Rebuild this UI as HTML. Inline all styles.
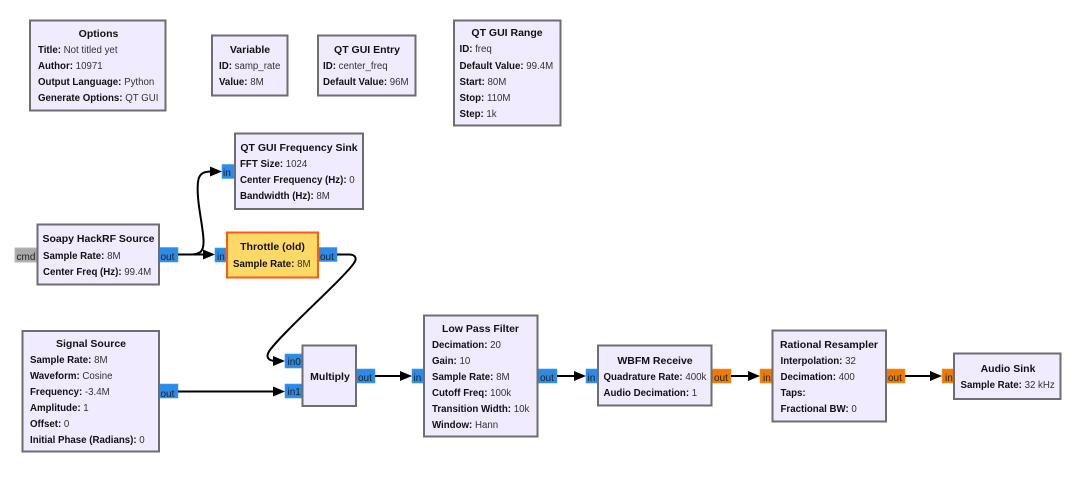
<!DOCTYPE html>
<html><head><meta charset="utf-8"><style>
html,body{margin:0;padding:0;background:#fff;width:1080px;height:483px;overflow:hidden}
svg{display:block}
text{font-family:"Liberation Sans",sans-serif;font-size:9.7px;fill:#333}
.pl text{font-size:10px;fill:#222}
.b{font-weight:bold;fill:#111}
.t{font-weight:bold;fill:#111;text-anchor:middle;font-size:10.5px}
.n{fill:#f0ebff;stroke:#6e6e6e;stroke-width:2}
.p{fill:#2a8be8;stroke:#4aa0f0;stroke-width:.6}
.o{fill:#ee7a00;stroke:#f09a40;stroke-width:.6}
.w{fill:none;stroke:#000;stroke-width:2}
.a{fill:#000}
</style></head><body>
<svg width="1080" height="483" viewBox="0 0 1080 483" xmlns="http://www.w3.org/2000/svg">
<!-- ports -->
<rect class="p" x="222" y="164.500" width="12" height="14"/>
<rect x="15" y="248" width="22" height="14" fill="#aaa" stroke="#bbb"/>
<rect class="p" x="159" y="247.500" width="19" height="14.500"/>
<rect class="p" x="215" y="248" width="11" height="14"/>
<rect class="p" x="318" y="247.500" width="19" height="14"/>
<rect class="p" x="285" y="354" width="17" height="14"/>
<rect class="p" x="285" y="384" width="17" height="14"/>
<rect class="p" x="356" y="369" width="19" height="14"/>
<rect class="p" x="159" y="384" width="19" height="14"/>
<rect class="p" x="412" y="369" width="12" height="14"/>
<rect class="p" x="538" y="369" width="19" height="14"/>
<rect class="p" x="586" y="369" width="12" height="14"/>
<rect class="o" x="712" y="369" width="19" height="14"/>
<rect class="o" x="760" y="369" width="12" height="14"/>
<rect class="o" x="886" y="369" width="19" height="14"/>
<rect class="o" x="942" y="369" width="12" height="14"/>
<!-- wires -->
<path class="w" d="M178 254.500H212"/>
<path class="w" d="M190 254.500C200 254.500 204 252 203.500 240C203 225 196 200 198 182C199 173 204 171.500 212 171.500"/>
<path class="w" d="M337 254.500H349C356 254.500 357 259 354 263C345 277 285 330 270 350C265 357 268 361 276 361"/>
<path class="w" d="M178 391.500H276"/>
<path class="w" d="M375 376H403"/>
<path class="w" d="M557 376H577"/>
<path class="w" d="M731 376H751"/>
<path class="w" d="M905 376H933"/>
<path class="a" d="M222 171.500L210 166.500V176.500Z"/>
<path class="a" d="M215 254.500L203 249.500V259.500Z"/>
<path class="a" d="M285 361L273 356V366Z"/>
<path class="a" d="M285 391.500L273 386.500V396.500Z"/>
<path class="a" d="M412 376L400 371V381Z"/>
<path class="a" d="M586 376L574 371V381Z"/>
<path class="a" d="M760 376L748 371V381Z"/>
<path class="a" d="M942 376L930 371V381Z"/>
<!-- boxes -->
<rect class="n" x="30" y="20.500" width="135.500" height="90"/>
<rect class="n" x="212" y="35.500" width="75.500" height="60"/>
<rect class="n" x="318" y="35.500" width="97.500" height="60"/>
<rect class="n" x="454" y="20.500" width="106.500" height="105"/>
<rect class="n" x="235" y="133.500" width="128" height="75.500"/>
<rect class="n" x="37.500" y="224.500" width="121.500" height="60"/>
<rect x="227" y="232.500" width="91" height="45" fill="#ffd966" stroke="#ff5a14" stroke-width="2"/>
<rect class="n" x="22.500" y="331" width="136.500" height="120.500"/>
<rect class="n" x="302.500" y="345.500" width="53.500" height="60.500"/>
<rect class="n" x="424" y="315.500" width="113.500" height="121"/>
<rect class="n" x="598" y="345.500" width="113.500" height="60"/>
<rect class="n" x="772.500" y="330.500" width="113.500" height="91"/>
<rect class="n" x="954" y="353.500" width="106.500" height="45.500"/>
<!-- port labels -->
<g class="pl">
<text x="223" y="176">in</text>
<text x="16.500" y="260">cmd</text>
<text x="160.500" y="260">out</text>
<text x="217" y="260">in</text>
<text x="320" y="260">out</text>
<text x="287.500" y="365">in0</text>
<text x="287.500" y="395">in1</text>
<text x="358" y="381">out</text>
<text x="160.500" y="397">out</text>
<text x="413.500" y="381">in</text>
<text x="540" y="381">out</text>
<text x="587.500" y="381">in</text>
<text x="714" y="381">out</text>
<text x="763" y="381">in</text>
<text x="888" y="381">out</text>
<text x="945" y="381">in</text>
</g>
<!-- Options -->
<text class="t" x="98.500" y="37">Options</text>
<text x="38" y="53"><tspan class="b">Title:</tspan> Not titled yet</text>
<text x="38" y="69"><tspan class="b">Author:</tspan> 10971</text>
<text x="38" y="85"><tspan class="b">Output Language:</tspan> Python</text>
<text x="38" y="101"><tspan class="b">Generate Options:</tspan> QT GUI</text>
<!-- Variable -->
<text class="t" x="250" y="53">Variable</text>
<text x="219" y="69"><tspan class="b">ID:</tspan> samp_rate</text>
<text x="219" y="85"><tspan class="b">Value:</tspan> 8M</text>
<!-- Entry -->
<text class="t" x="367" y="53">QT GUI Entry</text>
<text x="323" y="69"><tspan class="b">ID:</tspan> center_freq</text>
<text x="323" y="85"><tspan class="b">Default Value:</tspan> 96M</text>
<!-- Range -->
<text class="t" x="507" y="36">QT GUI Range</text>
<text x="459.500" y="52"><tspan class="b">ID:</tspan> freq</text>
<text x="459.500" y="69"><tspan class="b">Default Value:</tspan> 99.4M</text>
<text x="459.500" y="85"><tspan class="b">Start:</tspan> 80M</text>
<text x="459.500" y="101"><tspan class="b">Stop:</tspan> 110M</text>
<text x="459.500" y="117"><tspan class="b">Step:</tspan> 1k</text>
<!-- Freq sink -->
<text class="t" x="299" y="151">QT GUI Frequency Sink</text>
<text x="240" y="167"><tspan class="b">FFT Size:</tspan> 1024</text>
<text x="240" y="183"><tspan class="b">Center Frequency (Hz):</tspan> 0</text>
<text x="240" y="199"><tspan class="b">Bandwidth (Hz):</tspan> 8M</text>
<!-- Soapy -->
<text class="t" x="98.500" y="242">Soapy HackRF Source</text>
<text x="43" y="259"><tspan class="b">Sample Rate:</tspan> 8M</text>
<text x="43" y="275"><tspan class="b">Center Freq (Hz):</tspan> 99.4M</text>
<!-- Throttle -->
<text class="t" x="272.500" y="250">Throttle (old)</text>
<text x="233" y="267"><tspan class="b">Sample Rate:</tspan> 8M</text>
<!-- Signal -->
<text class="t" x="91" y="347">Signal Source</text>
<text x="30" y="363"><tspan class="b">Sample Rate:</tspan> 8M</text>
<text x="30" y="379"><tspan class="b">Waveform:</tspan> Cosine</text>
<text x="30" y="395"><tspan class="b">Frequency:</tspan> -3.4M</text>
<text x="30" y="411"><tspan class="b">Amplitude:</tspan> 1</text>
<text x="30" y="427"><tspan class="b">Offset:</tspan> 0</text>
<text x="30" y="443"><tspan class="b">Initial Phase (Radians):</tspan> 0</text>
<!-- Multiply -->
<text class="t" x="330" y="380">Multiply</text>
<!-- LPF -->
<text class="t" x="480.500" y="332">Low Pass Filter</text>
<text x="432" y="348"><tspan class="b">Decimation:</tspan> 20</text>
<text x="432" y="364"><tspan class="b">Gain:</tspan> 10</text>
<text x="432" y="380"><tspan class="b">Sample Rate:</tspan> 8M</text>
<text x="432" y="396"><tspan class="b">Cutoff Freq:</tspan> 100k</text>
<text x="432" y="412"><tspan class="b">Transition Width:</tspan> 10k</text>
<text x="432" y="428"><tspan class="b">Window:</tspan> Hann</text>
<!-- WBFM -->
<text class="t" x="655" y="364">WBFM Receive</text>
<text x="603.500" y="380"><tspan class="b">Quadrature Rate:</tspan> 400k</text>
<text x="603.500" y="396"><tspan class="b">Audio Decimation:</tspan> 1</text>
<!-- Rational -->
<text class="t" x="829" y="348">Rational Resampler</text>
<text x="780.500" y="364"><tspan class="b">Interpolation:</tspan> 32</text>
<text x="780.500" y="380"><tspan class="b">Decimation:</tspan> 400</text>
<text x="780.500" y="396"><tspan class="b">Taps:</tspan></text>
<text x="780.500" y="412"><tspan class="b">Fractional BW:</tspan> 0</text>
<!-- Audio -->
<text class="t" x="1008" y="372">Audio Sink</text>
<text x="960.500" y="388"><tspan class="b">Sample Rate:</tspan> 32 kHz</text>
</svg>
</body></html>
